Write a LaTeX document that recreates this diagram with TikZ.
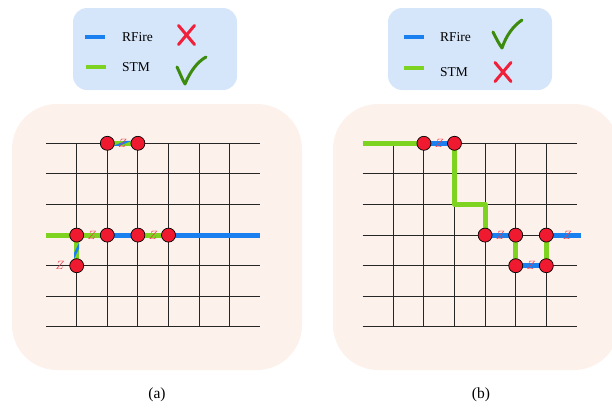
\documentclass[tikz,border=0pt]{standalone}
\usepackage{fontspec}
\setmainfont{Liberation Serif}
\usetikzlibrary{calc}
\definecolor{panel}{HTML}{FDF1EB}
\definecolor{legbg}{HTML}{D6E6FA}
\definecolor{rfblue}{HTML}{1A80F0}
\definecolor{stmgreen}{HTML}{7ED321}
\definecolor{nodered}{HTML}{F01A30}
\definecolor{zred}{HTML}{F03848}
\definecolor{okgreen}{HTML}{3C8A0E}
\definecolor{xred}{HTML}{F0203A}
\pgfdeclarelayer{back}
\pgfdeclarelayer{grid}
\pgfdeclarelayer{paths}
\pgfsetlayers{back,grid,paths,main}
\tikzset{
  gridline/.style={line width=0.9pt, black!85},
  rf/.style={line width=5pt, rfblue},
  stm/.style={line width=5pt, stmgreen, line join=round},
  qnode/.style={circle, fill=nodered, draw=black, line width=0.7pt, minimum size=14pt, inner sep=0pt},
  zlab/.style={text=zred, font=\fontsize{12}{12}\selectfont, inner sep=0pt},
  legtext/.style={font=\fontsize{13.5}{14}\selectfont, anchor=west, inner sep=0pt},
  legline/.style={line width=4pt},
  checkm/.style={line width=3pt, okgreen, line cap=round, line join=round},
  crossm/.style={line width=3pt, xred, line cap=round},
  panelbox/.style={fill=panel, rounded corners=45pt},
  legbox/.style={fill=legbg, rounded corners=14pt},
  captext/.style={font=\fontsize{15.5}{16}\selectfont}
}
\begin{document}
\begin{tikzpicture}[x=1pt, y=-1pt]
\clip (0,0) rectangle (612,407);
% panels
\begin{pgfonlayer}{back}
\fill[panelbox] (12,104) rectangle (302,370);
\fill[panelbox] (333,104) rectangle (619,370);
\fill[legbox] (73,8) rectangle (237,90);
\fill[legbox] (388,8) rectangle (552,90);
\end{pgfonlayer}

% ---------- left legend ----------
\coordinate (l1a) at (85,37); \coordinate (l1b) at (105,37);
\coordinate (l2a) at (86,67); \coordinate (l2b) at (106,67);
\draw[legline, rfblue] (l1a) -- (l1b);
\draw[legline, stmgreen] (l2a) -- (l2b);
\node[legtext] (lrf) at (122,37) {RFire};
\node[legtext] (lstm) at (122,67) {STM};
\draw[crossm] (178.5,25.5) -- (194.5,44.5);
\draw[crossm] (194.5,25.5) -- (178.5,44.5);
\draw[checkm] (177,67) .. controls (180,73) and (182,79) .. (185,84) .. controls (190,72) and (197,62) .. (206,57);

% ---------- right legend ----------
\coordinate (r1a) at (404,37); \coordinate (r1b) at (424,37);
\coordinate (r2a) at (404,68); \coordinate (r2b) at (424,68);
\draw[legline, rfblue] (r1a) -- (r1b);
\draw[legline, stmgreen] (r2a) -- (r2b);
\node[legtext] (rrf) at (440,37) {RFire};
\node[legtext] (rstm) at (440,72) {STM};
\draw[crossm] (495,62.5) -- (511,81.5);
\draw[crossm] (511,62.5) -- (495,81.5);
\draw[checkm] (493,32) .. controls (496,38) and (499,44) .. (502,48) .. controls (506,36) and (513,26) .. (522,20);

% ---------- left grid ----------
\begin{scope}[shift={(76.7pt,-143.3pt)}, x=30.6pt, y=-30.6pt]
\begin{pgfonlayer}{grid}
\foreach \r in {0,...,6} \draw[gridline] (-1,\r) -- (6,\r);
\foreach \c in {0,...,5} \draw[gridline] (\c,0) -- (\c,6);
\end{pgfonlayer}
\node[qnode] (a10) at (1,0) {};
\node[qnode] (a20) at (2,0) {};
\node[qnode] (a03) at (0,3) {};
\node[qnode] (a13) at (1,3) {};
\node[qnode] (a23) at (2,3) {};
\node[qnode] (a33) at (3,3) {};
\node[qnode] (a04) at (0,4) {};
\coordinate (aL) at (-1,3);
\coordinate (aR) at (6,3);
\begin{pgfonlayer}{paths}
\draw[stm] (aL) -- (a03.center) -- (a13.center);
\draw[rf] (a13.center) -- (a23.center);
\draw[stm] (a23.center) -- (a33.center);
\draw[rf] (a33.center) -- (aR);
% striped vertical
\begin{scope}
\clip ([xshift=-2.5pt]a03.center) rectangle ([xshift=2.5pt]a04.center);
\fill[stmgreen] ([xshift=-2.5pt]a03.center) rectangle ([xshift=2.5pt]a04.center);
\coordinate (am) at ($(a03.center)!0.5!(a04.center)$);
\fill[rfblue] ([shift={(-2.5pt,-8pt)}]am) -- ([shift={(-2.5pt,-2pt)}]am) -- ([shift={(2.5pt,8pt)}]am) -- ([shift={(2.5pt,2pt)}]am) -- cycle;
\end{scope}
% striped horizontal
\begin{scope}
\clip ([yshift=-2.5pt]a10.center) rectangle ([yshift=2.5pt]a20.center);
\fill[stmgreen] ([yshift=-2.5pt]a10.center) rectangle ([yshift=2.5pt]a20.center);
\coordinate (an) at ($(a10.center)!0.5!(a20.center)$);
\fill[rfblue] ([shift={(-9pt,-2.5pt)}]an) -- ([shift={(-3pt,-2.5pt)}]an) -- ([shift={(9pt,2.5pt)}]an) -- ([shift={(3pt,2.5pt)}]an) -- cycle;
\end{scope}
\end{pgfonlayer}
\node[zlab] (az1) at ($(a10)!0.5!(a20)$) {$Z$};
\node[zlab] (az2) at ($(a03)!0.5!(a13)$) {$Z$};
\node[zlab] (az3) at ($(a23)!0.5!(a33)$) {$Z$};
\node[zlab] (az4) at ([xshift=-16.5pt]a04.center) {$Z$};
\end{scope}

% ---------- right grid ----------
\begin{scope}[shift={(393.3pt,-143.3pt)}, x=30.6pt, y=-30.6pt]
\begin{pgfonlayer}{grid}
\foreach \r in {0,...,6} \draw[gridline] (-1,\r) -- (6,\r);
\foreach \c in {0,...,5} \draw[gridline] (\c,0) -- (\c,6);
\end{pgfonlayer}
\node[qnode] (b10) at (1,0) {};
\node[qnode] (b20) at (2,0) {};
\node[qnode] (b33) at (3,3) {};
\node[qnode] (b43) at (4,3) {};
\node[qnode] (b53) at (5,3) {};
\node[qnode] (b44) at (4,4) {};
\node[qnode] (b54) at (5,4) {};
\coordinate (bL) at (-1,0);
\coordinate (bK) at (3,2);
\coordinate (bR) at (6.12,3);
\begin{pgfonlayer}{paths}
\draw[stm] (bL) -- (b10.center);
\draw[rf] (b10.center) -- (b20.center);
\draw[stm] (b20.center) |- (bK) -- (b33.center);
\draw[rf] (b33.center) -- (b43.center);
\draw[stm] (b43.center) -- (b44.center);
\draw[rf] (b44.center) -- (b54.center);
\draw[stm] (b53.center) -- (b54.center);
\draw[rf] (b53.center) -- (bR);
\end{pgfonlayer}
\node[zlab] (bz1) at ($(b10)!0.5!(b20)$) {$Z$};
\node[zlab] (bz2) at ($(b33)!0.5!(b43)$) {$Z$};
\node[zlab] (bz3) at ($(b44)!0.5!(b54)$) {$Z$};
\node[zlab] (bz4) at ([xshift=21pt]b53.center) {$Z$};
\end{scope}

% captions
\node[captext] (capa) at (157,395) {(a)};
\node[captext] (capb) at (481,395) {(b)};
\end{tikzpicture}
\end{document}
